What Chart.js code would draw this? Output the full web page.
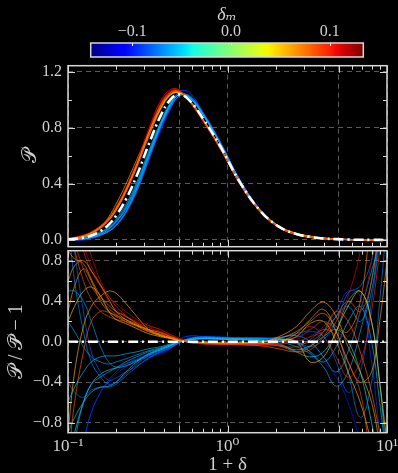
<!DOCTYPE html>
<html>
<head>
<meta charset="utf-8">
<script src="https://cdn.jsdelivr.net/npm/chart.js@4.4.0/dist/chart.umd.min.js"></script>
<style>
  html, body { margin: 0; padding: 0; background: #000; }
  #wrap { position: relative; width: 398px; height: 473px; background: #000; overflow: hidden; }
  canvas { position: absolute; left: 0; }
</style>
</head>
<body>
<div id="wrap">
  <canvas id="cbar" width="398" height="60" style="top:0"></canvas>
  <canvas id="pdf" width="398" height="190" style="top:60px"></canvas>
  <canvas id="ratio" width="398" height="232" style="top:246px"></canvas>
</div>
<script>
// sample positions along 1+delta
const X = [0.1, 0.11, 0.125, 0.14, 0.16, 0.18, 0.2, 0.23, 0.27, 0.32, 0.38, 0.44, 0.5, 0.58,
           0.7, 0.9, 1.2, 1.6, 2.1, 2.7, 3.3, 4, 4.8, 5.7, 6.8, 8, 9, 10];

// mean PDF (white dash-dot curve)
const MEAN = [0.004, 0.008, 0.017, 0.032, 0.064, 0.11, 0.173, 0.287, 0.46, 0.68, 0.885, 1.005, 1.04, 0.995,
              0.87, 0.67, 0.41, 0.21, 0.095, 0.042, 0.022, 0.011, 0.006, 0.003, 0.0015, 0.0007, 0.0004, 0.0002];

// delta_m of each realisation (sets colour)
const DM = [0.09, 0.07, 0.11, 0.06, 0.08, 0.05, 0.1, 0.065, 0.12, 0.055, 0.085,
            -0.06, -0.07, -0.05, -0.09, -0.065, -0.055, -0.08, -0.045, -0.075, -0.1, -0.06];

// P / Pbar - 1 for each realisation
const R = [
  [1.4, 1.0, 0.72, 0.55, 0.42, 0.33, 0.27, 0.2, 0.15, 0.1, 0.08, 0.05, 0.02, 0.0, -0.015, -0.02, -0.02, -0.02, -0.04, -0.05, 0.02, 0.12, 0.05, -0.2, -0.5, -1.2, -1.5, -1.5],
  [0.9, 0.82, 0.77, 0.62, 0.45, 0.36, 0.3, 0.25, 0.18, 0.12, 0.07, 0.04, 0.015, -0.005, -0.01, -0.02, -0.02, -0.01, 0.03, 0.1, 0.2, 0.28, 0.15, 0.1, 0.4, 1.2, 1.5, 1.5],
  [2.0, 1.6, 1.1, 0.85, 0.6, 0.45, 0.38, 0.3, 0.22, 0.16, 0.12, 0.07, 0.03, -0.01, -0.02, -0.025, -0.03, -0.03, -0.02, 0.0, 0.05, 0.1, 0.2, 0.45, 0.9, 1.6, 2.0, 2.0],
  [0.6, 0.75, 0.8, 0.7, 0.56, 0.42, 0.3, 0.22, 0.16, 0.1, 0.06, 0.035, 0.01, 0.0, -0.01, -0.015, -0.01, -0.01, 0.05, 0.15, 0.3, 0.39, 0.25, -0.05, -0.3, -0.6, -1.0, -1.3],
  [-1.2, -0.6, -0.1, 0.2, 0.3, 0.29, 0.25, 0.2, 0.16, 0.12, 0.09, 0.05, 0.02, -0.01, -0.02, -0.025, -0.03, -0.04, -0.07, -0.1, -0.05, 0.1, 0.3, 0.2, -0.1, -0.5, -0.9, -1.2],
  [0.2, 0.35, 0.5, 0.54, 0.45, 0.3, 0.22, 0.18, 0.13, 0.08, 0.05, 0.03, 0.01, 0.0, -0.005, -0.01, -0.01, 0.0, 0.02, 0.0, -0.2, -0.15, 0.1, 0.35, 0.5, 0.2, -0.4, -1.0],
  [1.8, 1.3, 0.9, 0.7, 0.55, 0.45, 0.35, 0.26, 0.19, 0.14, 0.1, 0.06, 0.025, -0.005, -0.02, -0.025, -0.03, -0.03, -0.02, 0.05, 0.15, 0.05, -0.15, -0.35, -0.2, 0.3, 0.9, 1.5],
  [0.3, 0.55, 0.72, 0.6, 0.4, 0.3, 0.26, 0.22, 0.17, 0.11, 0.07, 0.04, 0.015, 0.0, -0.01, -0.015, -0.02, -0.02, 0.0, 0.08, 0.22, 0.32, 0.1, -0.2, -0.4, -0.3, 0.2, 0.8],
  [1.5, 1.2, 0.95, 0.75, 0.56, 0.4, 0.32, 0.25, 0.2, 0.16, 0.12, 0.07, 0.03, -0.01, -0.02, -0.03, -0.03, -0.04, -0.03, 0.02, 0.12, 0.2, 0.1, 0.05, 0.3, 0.8, 1.4, 2.0],
  [-0.9, -0.3, 0.15, 0.35, 0.45, 0.5, 0.48, 0.38, 0.25, 0.12, 0.06, 0.035, 0.01, 0.0, -0.01, -0.015, -0.02, -0.02, 0.0, 0.05, 0.18, 0.2, 0.0, -0.3, -0.6, -1.0, -1.3, -1.5],
  [1.1, 0.9, 0.6, 0.42, 0.3, 0.25, 0.22, 0.2, 0.16, 0.12, 0.09, 0.05, 0.02, -0.005, -0.015, -0.02, -0.025, -0.03, -0.04, -0.1, -0.08, 0.05, 0.25, 0.4, 0.3, 0.6, 1.2, 1.8],
  [-1.5, -1.0, -0.6, -0.42, -0.35, -0.3, -0.26, -0.2, -0.15, -0.1, -0.07, -0.04, 0.0, 0.025, 0.035, 0.035, 0.03, 0.02, 0.0, -0.05, -0.12, -0.25, -0.44, -0.3, 0.1, 0.6, 1.2, 1.8],
  [1.2, 0.6, 0.1, -0.2, -0.35, -0.42, -0.4, -0.32, -0.22, -0.14, -0.09, -0.05, -0.01, 0.03, 0.045, 0.04, 0.035, 0.03, 0.04, 0.08, 0.12, 0.2, 0.1, -0.3, -0.75, -0.4, 0.4, 1.2],
  [-0.9, -0.75, -0.6, -0.5, -0.45, -0.44, -0.4, -0.3, -0.2, -0.13, -0.08, -0.04, 0.0, 0.02, 0.035, 0.03, 0.02, 0.01, -0.02, -0.1, -0.15, -0.1, 0.1, 0.4, 0.5, 0.2, -0.4, -1.2],
  [-1.8, -1.4, -1.0, -0.7, -0.5, -0.38, -0.3, -0.22, -0.17, -0.13, -0.11, -0.06, 0.02, 0.055, 0.05, 0.045, 0.04, 0.04, 0.02, 0.0, 0.05, 0.15, 0.3, 0.5, 0.45, -0.2, -0.9, -1.5],
  [0.5, 0.5, 0.4, 0.2, -0.05, -0.2, -0.25, -0.22, -0.18, -0.12, -0.08, -0.04, 0.0, 0.03, 0.04, 0.035, 0.03, 0.02, 0.01, -0.02, 0.0, 0.1, 0.25, 0.35, 0.2, 0.5, 1.1, 1.6],
  [-0.6, -0.45, -0.3, -0.2, -0.15, -0.14, -0.14, -0.12, -0.1, -0.07, -0.05, -0.02, 0.01, 0.02, 0.03, 0.025, 0.02, 0.03, 0.03, 0.0, -0.1, -0.2, -0.05, 0.2, 0.35, 0.0, -0.6, -1.2],
  [1.5, 0.9, 0.3, -0.1, -0.3, -0.38, -0.36, -0.3, -0.24, -0.17, -0.1, -0.06, -0.01, 0.035, 0.05, 0.045, 0.04, 0.04, 0.02, 0.04, 0.1, 0.05, -0.2, -0.5, -0.3, 0.4, 1.0, 1.6],
  [-1.2, -0.9, -0.6, -0.42, -0.32, -0.28, -0.26, -0.24, -0.19, -0.12, -0.07, -0.03, 0.0, 0.02, 0.03, 0.025, 0.02, 0.01, -0.03, -0.08, -0.04, 0.05, 0.12, 0.0, -0.3, -0.8, -1.2, -1.5],
  [-0.4, -0.5, -0.55, -0.48, -0.45, -0.45, -0.42, -0.34, -0.25, -0.16, -0.1, -0.06, -0.01, 0.03, 0.045, 0.04, 0.035, 0.03, 0.01, 0.0, -0.05, 0.02, 0.2, 0.48, 0.55, 0.8, 1.3, 1.5],
  [-2.0, -1.5, -1.0, -0.7, -0.5, -0.4, -0.32, -0.25, -0.19, -0.15, -0.12, -0.07, 0.02, 0.06, 0.05, 0.045, 0.04, 0.04, 0.03, -0.02, -0.1, -0.2, -0.35, -0.6, -1.0, -1.5, -2.0, -2.0],
  [0.2, 0.1, -0.05, -0.15, -0.2, -0.22, -0.2, -0.17, -0.13, -0.09, -0.06, -0.03, 0.0, 0.02, 0.03, 0.03, 0.03, 0.03, 0.04, 0.06, 0.0, -0.15, -0.3, -0.1, 0.3, 0.7, 1.0, 1.4]
];

// axis ticks
const GRID_X = [0.1, 0.5, 1, 5, 10];
const MINOR_X = [0.2, 0.3, 0.4, 0.6, 0.7, 0.8, 0.9, 2, 3, 4, 6, 7, 8, 9];
const TOP_Y = [0, 0.4, 0.8, 1.2];
const TOP_Y_MINOR = [0.2, 0.6, 1.0];
const BOT_Y = [-0.8, -0.4, 0, 0.4, 0.8];
const BOT_Y_MINOR = [-0.6, -0.2, 0.2, 0.6];
const CBAR_TICKS = [-0.1, 0, 0.1];
const DM_MIN = -0.142, DM_MAX = 0.134;

const TXT = '#d2d2d2';
const FRAME = '#d8d8d8';
const GRIDC = '#5a5a5a';
const SERIF = "'Liberation Serif', 'DejaVu Serif', serif";

function lerp(t, pts) {
    for (let i = 1; i < pts.length; i++) {
        if (t <= pts[i][0]) {
            const [x0, y0] = pts[i - 1], [x1, y1] = pts[i];
            return y0 + (y1 - y0) * (t - x0) / (x1 - x0);
        }
    }
    return pts[pts.length - 1][1];
}

// matplotlib jet
function jet(t) {
    t = Math.max(0, Math.min(1, t));
    const r = lerp(t, [[0, 0], [0.35, 0], [0.66, 1], [0.89, 1], [1, 0.5]]);
    const g = lerp(t, [[0, 0], [0.125, 0], [0.375, 1], [0.64, 1], [0.91, 0], [1, 0]]);
    const b = lerp(t, [[0, 0.5], [0.11, 1], [0.34, 1], [0.65, 0], [1, 0]]);
    return [r, g, b].map(v => Math.round(v * 255));
}
function dmColor(dm, a) {
    const [r, g, b] = jet((dm - DM_MIN) / (DM_MAX - DM_MIN));
    return `rgba(${r},${g},${b},${a})`;
}

const fmt = v => (Math.abs(v) < 1e-9 ? 0 : v).toFixed(1).replace('-', '\u2212');

// frame + inward ticks on all four sides
const frameTicks = {
    id: 'frameTicks',
    afterDatasetsDraw(chart, args, o) {
        const { ctx, chartArea: a, scales } = chart;
        ctx.save();
        ctx.strokeStyle = FRAME;
        ctx.lineWidth = 1;
        ctx.beginPath();
        const xt = (vals, len) => vals.forEach(v => {
            const p = Math.round(scales.x.getPixelForValue(v)) + 0.5;
            ctx.moveTo(p, a.bottom); ctx.lineTo(p, a.bottom - len);
            ctx.moveTo(p, a.top); ctx.lineTo(p, a.top + len);
        });
        const yt = (vals, len) => vals.forEach(v => {
            const p = Math.round(scales.y.getPixelForValue(v)) + 0.5;
            ctx.moveTo(a.left, p); ctx.lineTo(a.left + len, p);
            ctx.moveTo(a.right, p); ctx.lineTo(a.right - len, p);
        });
        xt(o.xMajor || [], 7); xt(o.xMinor || [], 4);
        yt(o.yMajor || [], 7); yt(o.yMinor || [], 4);
        ctx.stroke();
        ctx.lineWidth = 1.5;
        ctx.strokeRect(a.left, a.top, a.right - a.left, a.bottom - a.top);
        ctx.restore();
    }
};

// jet gradient for the colour bar
const colorBar = {
    id: 'colorBar',
    beforeDatasetsDraw(chart) {
        const { ctx, chartArea: a, scales } = chart;
        const grad = ctx.createLinearGradient(a.left, 0, a.right, 0);
        for (let i = 0; i <= 40; i++) {
            const [r, g, b] = jet(i / 40);
            grad.addColorStop(i / 40, `rgb(${r},${g},${b})`);
        }
        ctx.save();
        ctx.fillStyle = grad;
        ctx.fillRect(a.left, a.top, a.right - a.left, a.bottom - a.top);
        ctx.strokeStyle = '#ffffff';
        ctx.lineWidth = 1;
        ctx.beginPath();
        CBAR_TICKS.forEach(v => {
            const p = Math.round(scales.x.getPixelForValue(v)) + 0.5;
            ctx.moveTo(p, a.top); ctx.lineTo(p, a.top + 3);
        });
        ctx.stroke();
        ctx.strokeStyle = FRAME;
        ctx.lineWidth = 1.5;
        ctx.strokeRect(a.left, a.top, a.right - a.left, a.bottom - a.top);
        ctx.restore();
    }
};

function curveSets(valueOf) {
    const sets = [{
        data: X.map((x, i) => ({ x, y: valueOf(-1, i) })),
        borderColor: '#ffffff', borderWidth: 2.6, borderDash: [10, 4, 2, 4]
    }];
    R.forEach((row, k) => sets.push({
        data: X.map((x, i) => ({ x, y: valueOf(k, i) })),
        borderColor: dmColor(DM[k], 0.65), borderWidth: 1
    }));
    return sets;
}

function xScale(showLabels) {
    return {
        type: 'logarithmic', min: 0.1, max: 10,
        afterBuildTicks: ax => { ax.ticks = GRID_X.map(v => ({ value: v })); },
        afterFit: ax => { ax.height = showLabels ? 45.3 : 0; ax.paddingLeft = 0; ax.paddingRight = 0; },
        grid: { color: GRIDC, lineWidth: 1, drawTicks: false },
        border: { display: false, dash: [5, 4] },
        ticks: {
            display: showLabels, autoSkip: false, maxRotation: 0, padding: 4,
            color: TXT, font: { family: SERIF, size: 17 },
            callback: v => ({ 0.1: '10\u207B\u00B9', 1: '10\u2070', 10: '10\u00B9' })[v] || ''
        },
        title: {
            display: showLabels, text: '1 + \u03B4', color: TXT,
            font: { family: SERIF, size: 19 }, padding: { top: 0, bottom: 2 }
        }
    };
}

function yScale(min, max, ticks, title, titlePad) {
    return {
        min, max,
        afterBuildTicks: ax => { ax.ticks = ticks.map(v => ({ value: v })); },
        afterFit: ax => { ax.width = 68; ax.paddingTop = 0; ax.paddingBottom = 0; },
        grid: { color: GRIDC, lineWidth: 1, drawTicks: false },
        border: { display: false, dash: [5, 4] },
        ticks: { color: TXT, padding: 6, font: { family: SERIF, size: 16 }, callback: v => fmt(v) },
        title: { display: true, text: title, color: TXT, font: { family: SERIF, size: 20 }, padding: { top: titlePad, bottom: 0 } }
    };
}

const common = {
    responsive: false, animation: false, devicePixelRatio: 1,
    elements: { point: { radius: 0 }, line: { tension: 0.4, fill: false } },
    plugins: { legend: { display: false }, tooltip: { enabled: false } }
};

new Chart(document.getElementById('pdf'), {
    type: 'line',
    data: { datasets: curveSets((k, i) => k < 0 ? MEAN[i] : MEAN[i] * (1 + R[k][i])) },
    plugins: [frameTicks],
    options: {
        ...common,
        layout: { padding: { left: 0, right: 11, top: 5.7, bottom: 3.3 } },
        plugins: { ...common.plugins, frameTicks: { xMajor: GRID_X, xMinor: MINOR_X, yMajor: TOP_Y, yMinor: TOP_Y_MINOR } },
        scales: { x: xScale(false), y: yScale(-0.048, 1.245, TOP_Y, '\uD835\uDCAB', 19) }
    }
});

new Chart(document.getElementById('ratio'), {
    type: 'line',
    data: { datasets: curveSets((k, i) => k < 0 ? 0 : R[k][i]) },
    plugins: [frameTicks],
    options: {
        ...common,
        layout: { padding: { left: 0, right: 11, top: 4.7, bottom: 0 } },
        plugins: { ...common.plugins, frameTicks: { xMajor: GRID_X, xMinor: MINOR_X, yMajor: BOT_Y, yMinor: BOT_Y_MINOR } },
        scales: { x: xScale(true), y: yScale(-0.9, 0.9, BOT_Y, '\uD835\uDCAB / \uD835\uDCAB\u0304 \u2212 1', 5) }
    }
});

new Chart(document.getElementById('cbar'), {
    type: 'line',
    data: { datasets: [] },
    plugins: [colorBar],
    options: {
        ...common,
        layout: { padding: { left: 90.7, right: 34.7, top: 0, bottom: 3 } },
        scales: {
            x: {
                type: 'linear', position: 'top', min: DM_MIN, max: DM_MAX,
                afterBuildTicks: ax => { ax.ticks = CBAR_TICKS.map(v => ({ value: v })); },
                afterFit: ax => { ax.height = 43; ax.paddingLeft = 0; ax.paddingRight = 0; },
                grid: { display: false, drawTicks: false },
                border: { display: false },
                ticks: { color: TXT, padding: 2, autoSkip: false, maxRotation: 0, font: { family: SERIF, size: 16 }, callback: v => fmt(v) },
                title: { display: true, text: '\u03B4\u2098', color: TXT, font: { family: SERIF, size: 18, style: 'italic' }, padding: { top: 4, bottom: 0 } }
            },
            y: { display: false }
        }
    }
});
</script>
</body>
</html>
